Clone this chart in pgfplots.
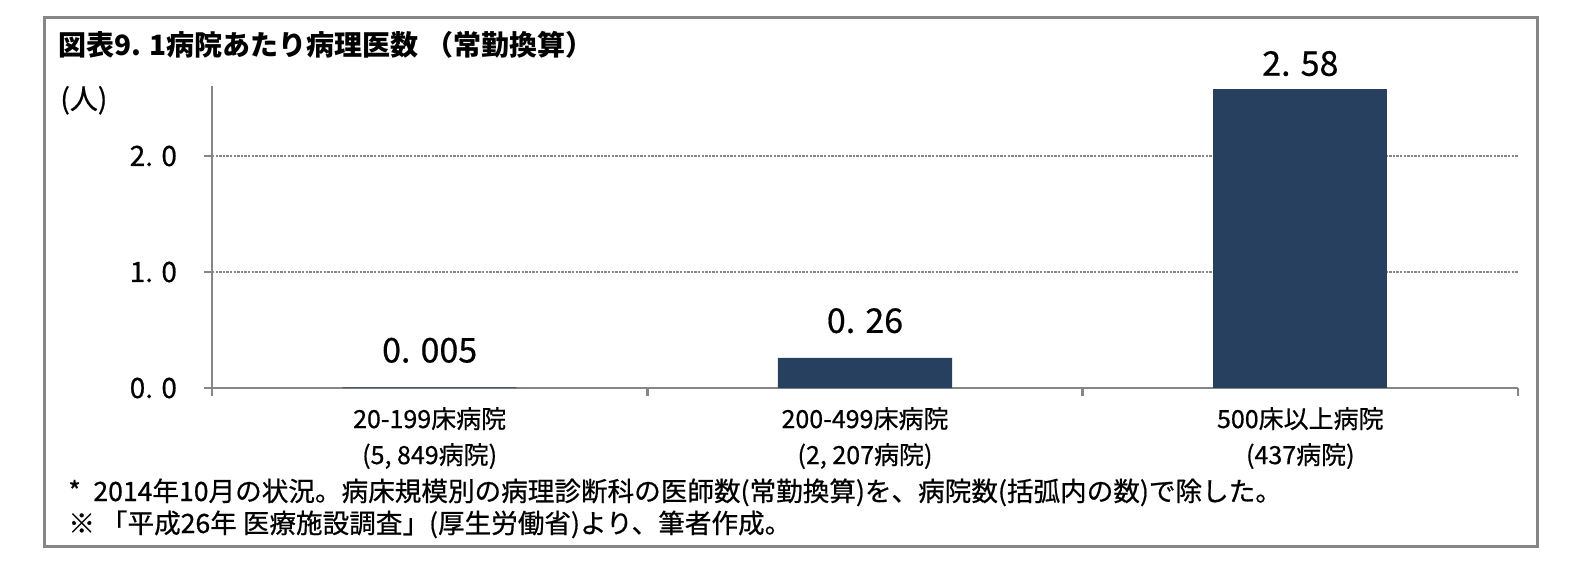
\documentclass[border=0pt]{standalone}
\usepackage{pgfplots}
\pgfplotsset{compat=1.18}
\usepackage{fontspec}
\setmainfont{Noto Sans CJK JP}
\newfontfamily\heavy[FakeBold=0.6]{Noto Sans CJK JP}
\definecolor{barblue}{RGB}{39,64,96}
\definecolor{axgray}{RGB}{134,134,134}

\begin{document}
\begin{tikzpicture}
% page: 1577x574 px at 0.5pt per px, origin at the axis corner
\useasboundingbox (-106pt,-93pt) rectangle (682.5pt,194pt);
\draw[axgray, line width=1.5pt] (-83.5pt,-79pt) rectangle (662.5pt,185pt);

\node[anchor=base west, font=\fontsize{14}{16}\selectfont\bfseries, inner sep=0pt]
  at (-77pt,166pt) {図表9. 1病院あたり病理医数 （常勤換算）};
\node[anchor=base west, font=\fontsize{14}{16}\selectfont\heavy, inner sep=0pt]
  at (-76pt,139.5pt) {(人)};

\begin{axis}[
    at={(0pt,0pt)}, anchor=south west,
    scale only axis,
    width=653pt, height=150.8pt,
    xmin=-0.5, xmax=2.5,
    ymin=0, ymax=2.6,
    axis lines=left,
    axis line style={axgray, line width=1.2pt, -},
    tick align=outside,
    major tick length=4pt,
    tick style={axgray, line width=1.2pt},
    ytick={0,1,2},
    yticklabels={0. 0,1. 0,2. 0},
    yticklabel style={font=\fontsize{14}{16}\selectfont\heavy, xshift=-10pt},
    ymajorgrids,
    grid style={axgray, line width=0.8pt, dash pattern=on 1.2pt off 0.6pt},
    xtick={-0.5,0.5,1.5,2.5},
    x tick label as interval,
    xticklabels={{20-199床病院\\(5, 849病院)},{200-499床病院\\(2, 207病院)},{500床以上病院\\(437病院)}},
    xticklabel style={align=center, font=\fontsize{12.5}{18}\selectfont\heavy, yshift=-2pt},
    ybar, bar shift=0pt, bar width=0.4,
    point meta=explicit symbolic,
    nodes near coords,
    every node near coord/.append style={font=\fontsize{17}{20}\selectfont\heavy, anchor=base, text=black},
]
\addplot[fill=barblue, draw=none,
  every node near coord/.append style={yshift=12.5pt}]
  coordinates {(0,0.005) [0. 005] (1,0.26) [0. 26]};
\addplot[fill=barblue, draw=none,
  every node near coord/.append style={yshift=6.5pt}]
  coordinates {(2,2.58) [2. 58]};
\end{axis}

\node[anchor=base west, font=\fontsize{13.3}{15}\selectfont\heavy, inner sep=0pt]
  at (-72pt,-56.5pt) {*};
\node[anchor=base west, font=\fontsize{13.3}{15}\selectfont\heavy, inner sep=0pt]
  at (-59.5pt,-56.5pt) {2014年10月の状況。病床規模別の病理診断科の医師数(常勤換算)を、病院数(括弧内の数)で除した。};
\node[anchor=base west, font=\fontsize{13.3}{15}\selectfont\heavy, inner sep=0pt]
  at (-72pt,-72.5pt) {※\ 「平成26年\ 医療施設調査」(厚生労働省)より、筆者作成。};
\end{tikzpicture}
\end{document}
